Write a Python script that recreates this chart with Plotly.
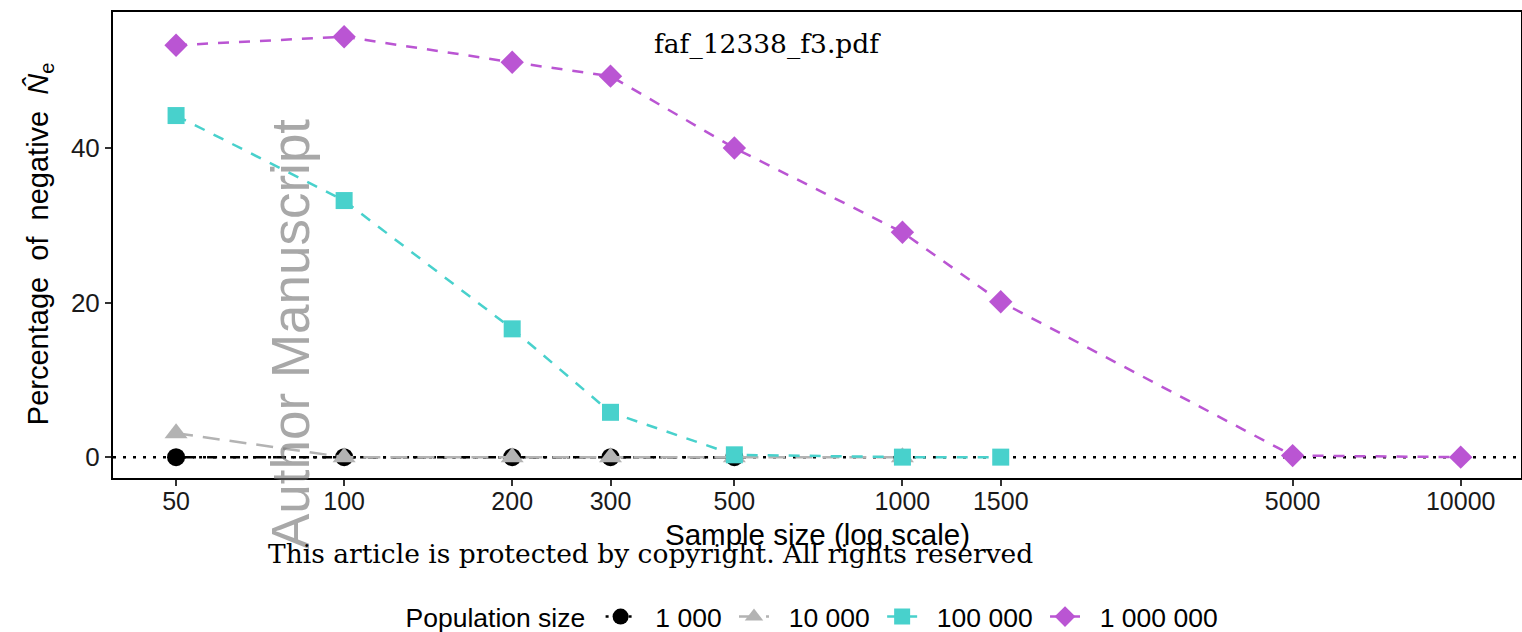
import plotly.graph_objects as go

# ---- data ----
sample_sizes_1k = [50, 100, 200, 300, 500]
pct_1k = [0, 0, 0, 0, 0]

sample_sizes_10k = [50, 100, 200, 300, 500, 1000]
pct_10k = [3.1, 0, 0, 0, 0, 0]

sample_sizes_100k = [50, 100, 200, 300, 500, 1000, 1500]
pct_100k = [44.2, 33.2, 16.6, 5.8, 0.3, 0, 0]

sample_sizes_1m = [50, 100, 200, 300, 500, 1000, 1500, 5000, 10000]
pct_1m = [53.3, 54.4, 51.1, 49.3, 40.0, 29.1, 20.1, 0.2, 0]

series_names = ["1 000", "10 000", "100 000", "1 000 000"]
x_tickvals = [50, 100, 200, 300, 500, 1000, 1500, 5000, 10000]
x_ticktext = ["50", "100", "200", "300", "500", "1000", "1500", "5000", "10000"]
y_tickvals = [0, 20, 40]

# ---- styles ----
colors = ["#000000", "#B3B3B3", "#48D1CC", "#BA55D3"]
symbols = ["circle", "triangle-up", "square", "diamond"]
sizes = [18, 20, 17, 18]
dashes = ["3px,5px,10px,5px", "17px,10px", "11px,10px", "11px,10px"]

SANS = "Liberation Sans, Arial, sans-serif"
SERIF = "DejaVu Serif, serif"
NB = "\u00a0"

fig = go.Figure()
xs = [sample_sizes_1k, sample_sizes_10k, sample_sizes_100k, sample_sizes_1m]
ys = [pct_1k, pct_10k, pct_100k, pct_1m]
for i in range(4):
    fig.add_trace(go.Scatter(
        x=xs[i], y=ys[i], name=NB * 2 + series_names[i] + NB, mode="lines+markers",
        line=dict(color=colors[i], width=2.5, dash=dashes[i]),
        marker=dict(symbol=symbols[i], size=sizes[i], color=colors[i]),
    ))

fig.add_shape(type="line", xref="paper", x0=0, x1=1, yref="y", y0=0, y1=0,
              line=dict(color="black", width=2.5, dash="3px,7px"), layer="below")

fig.update_layout(
    width=1522, height=632,
    margin=dict(l=113, r=1, t=12, b=154, autoexpand=False),
    plot_bgcolor="white", paper_bgcolor="white",
    font=dict(family=SANS, size=24, color="#1a1a1a"),
    showlegend=True,
    legend=dict(
        orientation="h", x=0.5, xanchor="center", y=-0.298, yanchor="middle",
        title=dict(text="Population size" + NB, font=dict(size=26.5, color="black")),
        font=dict(size=26.5, color="black"),
    ),
    xaxis=dict(
        type="log", range=[1.586, 4.108],
        tickvals=x_tickvals, ticktext=x_ticktext,
        ticks="outside", ticklen=6, tickwidth=2, tickcolor="#333",
        ticklabelstandoff=-6,
        showgrid=False, zeroline=False,
        showline=True, linecolor="black", linewidth=2, mirror=True,
        tickfont=dict(size=25, color="#1a1a1a"),
    ),
    yaxis=dict(
        range=[-2.7, 57.6], tickvals=y_tickvals,
        ticks="outside", ticklen=6, tickwidth=2, tickcolor="#333",
        showgrid=False, zeroline=False,
        showline=True, linecolor="black", linewidth=2, mirror=True,
        tickfont=dict(size=26, color="#1a1a1a"),
    ),
)

annotations = [
    dict(text="Sample size (log scale)", x=0.5, y=-0.122, xref="paper", yref="paper",
         xanchor="center", yanchor="middle", showarrow=False,
         font=dict(family=SANS, size=29.5, color="black")),
    dict(text="Percentage\u00a0 of\u00a0 negative\u00a0 <i>N\u0302</i><sub>e</sub>",
         x=-0.0518, y=0.502, xref="paper", yref="paper", textangle=-90,
         xanchor="center", yanchor="middle", showarrow=False,
         font=dict(family=SANS, size=29, color="black")),
    dict(text="faf_12338_f3.pdf", x=0.4645, y=0.931, xref="paper", yref="paper",
         xanchor="center", yanchor="middle", showarrow=False,
         font=dict(family=SERIF, size=26.5, color="black")),
    dict(text="Author Manuscript", x=0.1257, y=0.309, xref="paper", yref="paper",
         textangle=-90, xanchor="center", yanchor="middle", showarrow=False,
         font=dict(family=SANS, size=53, color="rgba(110,110,110,0.6)")),
    dict(text="This article is protected by copyright. All rights reserved",
         x=0.3817, y=-0.161, xref="paper", yref="paper",
         xanchor="center", yanchor="middle", showarrow=False,
         font=dict(family=SERIF, size=26.5, color="black")),
]
fig.update_layout(annotations=annotations)

fig.write_html("out.html")
